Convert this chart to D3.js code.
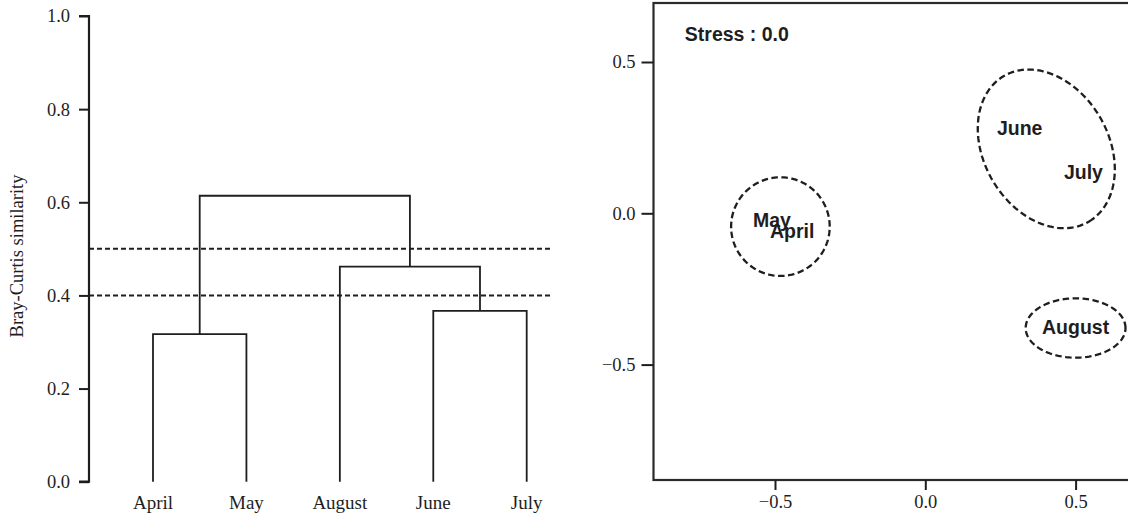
<!DOCTYPE html>
<html>
<head>
<meta charset="utf-8">
<script src="https://cdn.jsdelivr.net/npm/d3@7"></script>
<style>
  html, body { margin: 0; padding: 0; background: #fff; }
  svg { display: block; }
</style>
</head>
<body>
<svg id="chart" width="1128" height="517"></svg>
<script>
// ---------- Data: dendrogram ----------
const leaves = ["April", "May", "August", "June", "July"];
const mergeNames = ["m1", "m2", "m3", "m4"];
const mergeLeft = ["April", "June", "August", "m1"];
const mergeRight = ["May", "July", "m2", "m3"];
const mergeHeights = [0.317, 0.367, 0.462, 0.614];
const cutLines = [0.5, 0.4];
const simTicks = [0.0, 0.2, 0.4, 0.6, 0.8, 1.0];
const yTitle = "Bray-Curtis similarity";

// ---------- Data: NMDS ----------
const sites = ["May", "April", "June", "July", "August"];
const nmds1 = [-0.51, -0.443, 0.314, 0.526, 0.5];
const nmds2 = [-0.022, -0.06, 0.283, 0.135, -0.375];
const groupCx = [-0.482, 0.4025, 0.5];
const groupCy = [-0.044, 0.213, -0.379];
const groupRa = [0.164, 0.279, 0.166];
const groupRb = [0.163, 0.207, 0.098];
const groupAngle = [0, -59.3, 0];
const nmdsTicks = [-0.5, 0.0, 0.5];
const stressLabel = "Stress : 0.0";
const stressPos = [-0.8, 0.571];

const svg = d3.select("#chart");
const ink = "#1e1e1e";
const serif = "'Liberation Serif', 'Times New Roman', serif";
const sans = "'Liberation Sans', Arial, sans-serif";

// ================= Left: dendrogram =================
const xL = d3.scalePoint().domain(leaves).range([153, 526.7]);
const yL = d3.scaleLinear().domain([0, 1]).range([481.7, 16]);

const gL = svg.append("g");

const pos = {};
leaves.forEach(l => pos[l] = { x: xL(l), h: 0 });
mergeNames.forEach((m, i) => {
  const a = pos[mergeLeft[i]], b = pos[mergeRight[i]], h = mergeHeights[i];
  gL.append("path")
    .attr("d", `M${a.x},${yL(a.h)}V${yL(h)}H${b.x}V${yL(b.h)}`)
    .attr("fill", "none").attr("stroke", ink).attr("stroke-width", 1.8);
  pos[m] = { x: (a.x + b.x) / 2, h: h };
});

// cut lines
gL.selectAll("line.cut").data(cutLines).enter().append("line")
  .attr("x1", 89).attr("x2", 551.5)
  .attr("y1", d => yL(d)).attr("y2", d => yL(d))
  .attr("stroke", ink).attr("stroke-width", 2)
  .attr("stroke-dasharray", "5,3");

// y axis
const axL = gL.append("g").attr("transform", "translate(89,0)")
  .call(d3.axisLeft(yL).tickValues(simTicks).tickFormat(d3.format(".1f"))
    .tickSize(10).tickPadding(9));
axL.select(".domain").attr("stroke", ink).attr("stroke-width", 2.2).attr("d", `M-10,${yL(1)}H0V${yL(0)}H-10`);
axL.selectAll(".tick line").attr("stroke", ink).attr("stroke-width", 2);
axL.selectAll(".tick text").attr("font-family", serif).attr("font-size", 18.5).attr("fill", ink);

// leaf labels
gL.selectAll("text.leaf").data(leaves).enter().append("text")
  .attr("x", d => xL(d)).attr("y", 508.5)
  .attr("text-anchor", "middle")
  .attr("font-family", serif).attr("font-size", 19).attr("fill", ink)
  .text(d => d);

// y title
gL.append("text")
  .attr("transform", "translate(23,256) rotate(-90)")
  .attr("text-anchor", "middle")
  .attr("font-family", serif).attr("font-size", 18.5).attr("fill", ink)
  .text(yTitle);

// ================= Right: NMDS =================
const xR = d3.scaleLinear().domain([0, 0.5]).range([925.3, 1075.6]);
const yR = d3.scaleLinear().domain([0, 0.5]).range([213.3, 62]);
const boxX0 = xR.invert(653.5), boxX1 = xR.invert(1140), boxY0 = yR.invert(3), boxY1 = yR.invert(480);

const gR = svg.append("g");

gR.append("rect")
  .attr("x", xR(boxX0)).attr("y", yR(boxY0))
  .attr("width", xR(boxX1) - xR(boxX0)).attr("height", yR(boxY1) - yR(boxY0))
  .attr("fill", "none").attr("stroke", "#2a2a2a").attr("stroke-width", 2.2);

const axB = gR.append("g").attr("transform", `translate(0,${yR(boxY1)})`)
  .call(d3.axisBottom(xR).tickValues(nmdsTicks).tickFormat(d3.format(".1f")).tickSize(10).tickPadding(5));
axB.select(".domain").remove();
axB.selectAll(".tick line").attr("stroke", ink).attr("stroke-width", 2);
axB.selectAll(".tick text").attr("font-family", serif).attr("font-size", 18.5).attr("fill", ink);

const axY = gR.append("g").attr("transform", `translate(${xR(boxX0)},0)`)
  .call(d3.axisLeft(yR).tickValues(nmdsTicks).tickFormat(d3.format(".1f")).tickSize(12).tickPadding(6));
axY.select(".domain").remove();
axY.selectAll(".tick line").attr("stroke", ink).attr("stroke-width", 2);
axY.selectAll(".tick text").attr("font-family", serif).attr("font-size", 18.5).attr("fill", ink);

// ellipses
const tSteps = d3.range(0, 160).map(i => i / 160 * 2 * Math.PI);
const line = d3.line().x(d => xR(d[0])).y(d => yR(d[1])).curve(d3.curveLinearClosed);
groupCx.forEach((cx, i) => {
  const phi = groupAngle[i] * Math.PI / 180;
  const a = groupRa[i], b = groupRb[i], cy = groupCy[i];
  const pts = tSteps.map(t => [
    cx + a * Math.cos(t) * Math.cos(phi) - b * Math.sin(t) * Math.sin(phi),
    cy + a * Math.cos(t) * Math.sin(phi) + b * Math.sin(t) * Math.cos(phi)
  ]);
  gR.append("path").attr("d", line(pts))
    .attr("fill", "none").attr("stroke", ink).attr("stroke-width", 2.3)
    .attr("stroke-dasharray", "6.5,3.5");
});

// site labels
gR.selectAll("text.site").data(sites).enter().append("text")
  .attr("x", (d, i) => xR(nmds1[i])).attr("y", (d, i) => yR(nmds2[i]))
  .attr("text-anchor", "middle").attr("dy", "0.36em")
  .attr("font-family", sans).attr("font-weight", "bold").attr("font-size", 19.5).attr("fill", ink)
  .text(d => d);

gR.append("text")
  .attr("x", xR(stressPos[0])).attr("y", yR(stressPos[1]))
  .attr("font-family", sans).attr("font-weight", "bold").attr("font-size", 19.5).attr("fill", ink)
  .text(stressLabel);
</script>
</body>
</html>
